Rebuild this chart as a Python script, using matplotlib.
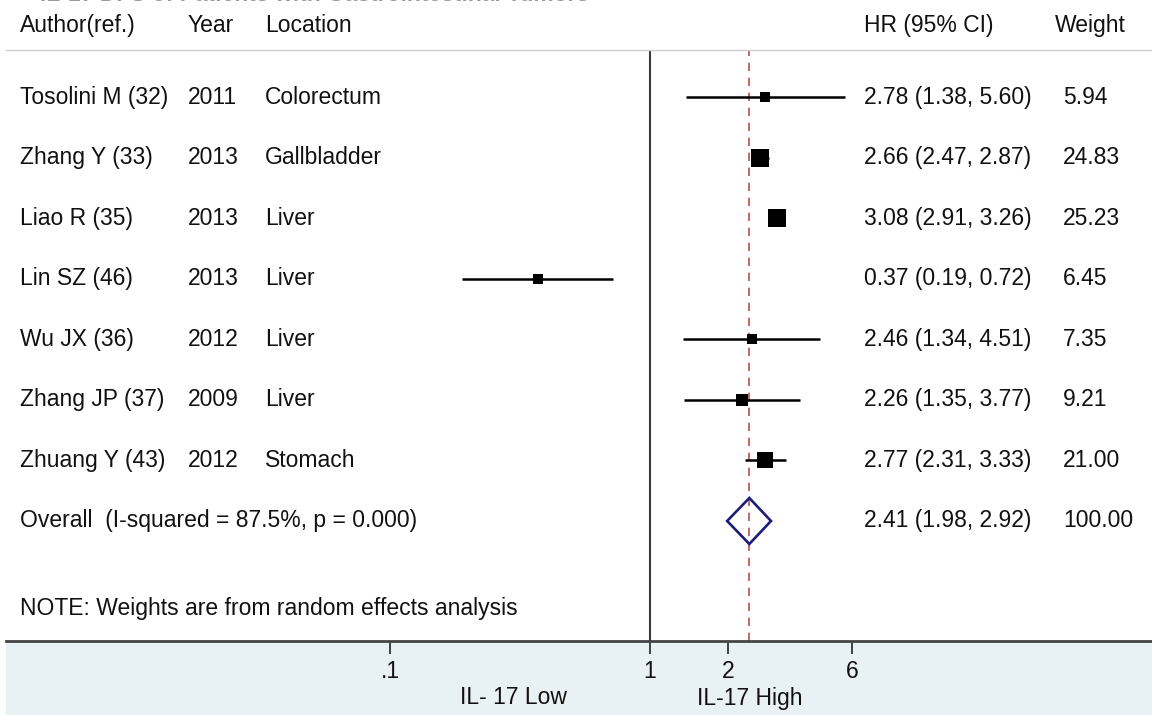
import numpy as np
import matplotlib
matplotlib.use("Agg")
import matplotlib.pyplot as plt
from matplotlib import transforms
from matplotlib.lines import Line2D
from matplotlib.patches import Rectangle, Polygon

plt.rcParams['font.family'] = ['Liberation Sans', 'DejaVu Sans']

# ---- data -------------------------------------------------------------
title = "IL-17 DFS of Patients with Gastrointestinal Tumors"
authors = ['Tosolini M (32)', 'Zhang Y (33)', 'Liao R (35)', 'Lin SZ (46)',
           'Wu JX (36)', 'Zhang JP (37)', 'Zhuang Y (43)']
years = ['2011', '2013', '2013', '2013', '2012', '2009', '2012']
locations = ['Colorectum', 'Gallbladder', 'Liver', 'Liver', 'Liver', 'Liver', 'Stomach']
hr = [2.78, 2.66, 3.08, 0.37, 2.46, 2.26, 2.77]
ci_low = [1.38, 2.47, 2.91, 0.19, 1.34, 1.35, 2.31]
ci_high = [5.60, 2.87, 3.26, 0.72, 4.51, 3.77, 3.33]
weights = [5.94, 24.83, 25.23, 6.45, 7.35, 9.21, 21.00]

overall_hr = 2.41
overall_low = 1.98
overall_high = 2.92
overall_weight = 100.00
i_squared = 87.5
p_value = 0.000

tick_values = [0.1, 1, 2, 6]
tick_labels = ['.1', '1', '2', '6']
low_label = 'IL- 17 Low'
high_label = 'IL-17 High'
note = 'NOTE: Weights are from random effects analysis'

# ---- layout ------------------------------------------------------------
W, H = 1152, 715
fig = plt.figure(figsize=(W / 100, H / 100), dpi=100)
fig.patch.set_facecolor('white')

ax_left, ax_right, ax_top, ax_bottom = 6, W, 51, 641
ax = fig.add_axes([ax_left / W, (H - ax_bottom) / H,
                   (ax_right - ax_left) / W, (ax_bottom - ax_top) / H])
ax.patch.set_alpha(0)

# log x-axis: one decade spans 260 px, value 1 sits at x = 650 px
px_decade, px_one = 260.0, 650.0
ax.set_xscale('log')
ax.set_xlim(10 ** ((ax_left - px_one) / px_decade), 10 ** ((ax_right - px_one) / px_decade))

# rows: study rows then the pooled row, 60.57 px apart
row_px0, row_step = 97.0, 60.57
ax.set_ylim((ax_bottom - row_px0) / row_step, (ax_top - row_px0) / row_step)

n = len(authors)
rows = np.arange(n)
overall_row = n

# shaded strip below the axis
fig.add_artist(Rectangle((ax_left / W, 0), 1 - ax_left / W, (H - ax_bottom) / H,
                         transform=fig.transFigure, facecolor='#e8f1f3',
                         edgecolor='none', zorder=0))
# header separator
fig.add_artist(Line2D([ax_left / W, 1], [(H - 50) / H] * 2, transform=fig.transFigure,
                      color='#cfcfcf', lw=1.0))

# reference lines
ax.axvline(1, color='#3a3a3a', lw=1.5, zorder=1)
ax.axvline(overall_hr, color='#b5524e', lw=1.2, ls=(0, (5, 4)), zorder=1)

# study CIs and weight boxes
for r, h, lo, hi, w in zip(rows, hr, ci_low, ci_high, weights):
    ax.plot([lo, hi], [r, r], color='black', lw=1.8, solid_capstyle='butt', zorder=2)
    side_px = 3.2 * np.sqrt(w) + 2.0
    ax.plot([h], [r], marker='s', color='black', ms=side_px * 0.72, mew=0, zorder=3)

# pooled diamond
half_h = 23.0 / row_step
diamond = Polygon([[overall_low, overall_row], [overall_hr, overall_row - half_h],
                   [overall_high, overall_row], [overall_hr, overall_row + half_h]],
                  closed=True, facecolor='none', edgecolor='#1c1c7a', lw=1.9, zorder=3)
ax.add_patch(diamond)

# axis styling
for s in ['top', 'left', 'right']:
    ax.spines[s].set_visible(False)
ax.spines['bottom'].set_color('#444444')
ax.spines['bottom'].set_linewidth(2.0)
ax.set_yticks([])
ax.set_xticks(tick_values)
ax.set_xticklabels(tick_labels)
ax.xaxis.set_minor_locator(matplotlib.ticker.NullLocator())
ax.tick_params(axis='x', direction='out', length=9, width=1.3, color='#333333',
               labelsize=16.5, labelcolor='#111111', pad=5)

# text columns
fs = 16.5
tc = '#111111'
tr = transforms.blended_transform_factory(fig.transFigure, ax.transData)
col_author, col_year, col_loc, col_hr, col_w = 20, 188, 265, 864, 1063

header_row = (25 - row_px0) / row_step
for x, s in [(col_author, 'Author(ref.)'), (col_year, 'Year'), (col_loc, 'Location'),
             (col_hr, 'HR (95% CI)'), (1055, 'Weight')]:
    ax.text(x / W, header_row, s, transform=tr, fontsize=fs, color=tc,
            va='center', ha='left', clip_on=False)

for r in rows:
    ax.text(col_author / W, r, authors[r], transform=tr, fontsize=fs, color=tc, va='center')
    ax.text(col_year / W, r, years[r], transform=tr, fontsize=fs, color=tc, va='center')
    ax.text(col_loc / W, r, locations[r], transform=tr, fontsize=fs, color=tc, va='center')
    ax.text(col_hr / W, r, f"{hr[r]:.2f} ({ci_low[r]:.2f}, {ci_high[r]:.2f})",
            transform=tr, fontsize=fs, color=tc, va='center')
    ax.text(col_w / W, r, f"{weights[r]:.2f}", transform=tr, fontsize=fs, color=tc, va='center')

ax.text(col_author / W, overall_row,
        f"Overall  (I-squared = {i_squared:.1f}%, p = {p_value:.3f})",
        transform=tr, fontsize=fs, color=tc, va='center')
ax.text(col_hr / W, overall_row,
        f"{overall_hr:.2f} ({overall_low:.2f}, {overall_high:.2f})",
        transform=tr, fontsize=fs, color=tc, va='center')
ax.text(col_w / W, overall_row, f"{overall_weight:.2f}", transform=tr,
        fontsize=fs, color=tc, va='center')

note_row = (609 - row_px0) / row_step
ax.text(col_author / W, note_row, note, transform=tr, fontsize=fs, color=tc,
        va='center', clip_on=False)

# direction labels under the axis
fig.text(513 / W, (H - 698) / H, low_label, fontsize=fs, color=tc, ha='center', va='center')
fig.text(750 / W, (H - 698) / H, high_label, fontsize=fs, color=tc, ha='center', va='center')

# title running off the top edge
fig.text(40 / W, (H - 1) / H, title, fontsize=fs, color='#9a9a9a',
         ha='left', va='baseline', fontweight='bold')

fig.savefig('out.png', dpi=100)
